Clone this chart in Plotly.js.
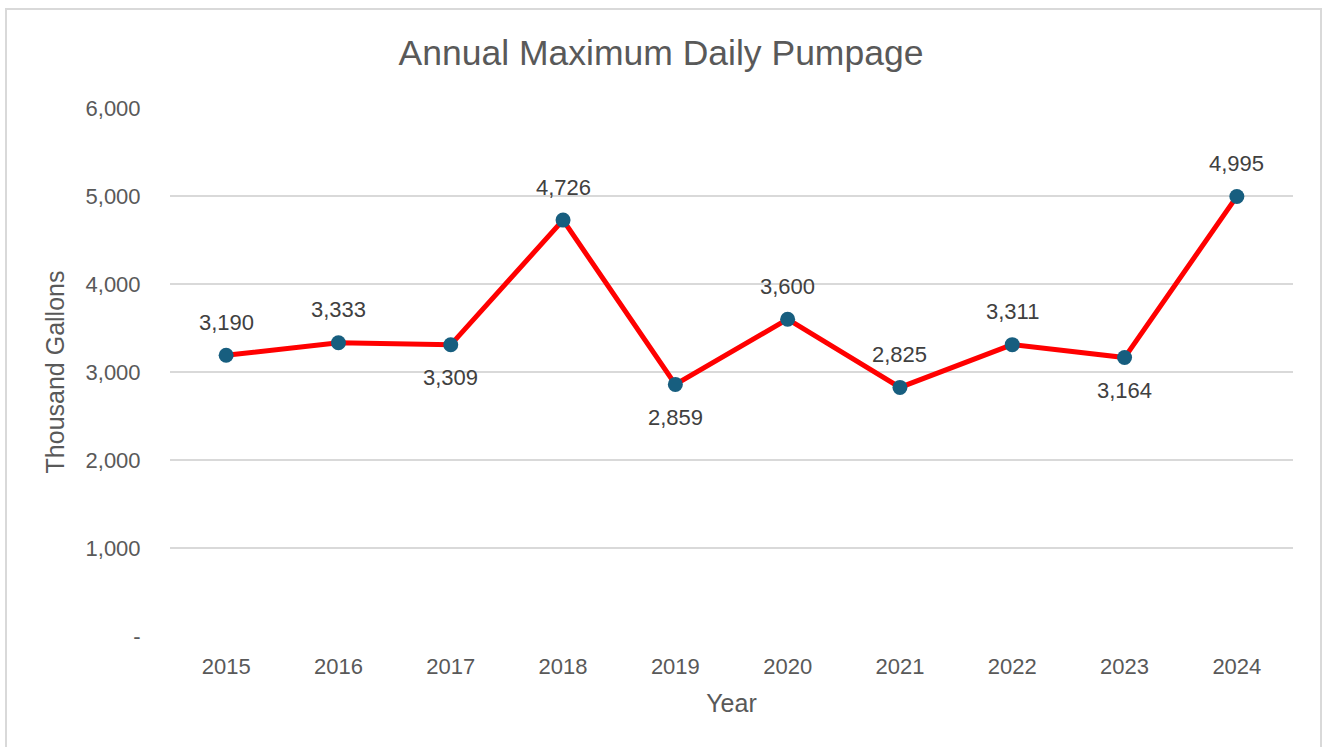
<!DOCTYPE html>
<html>
<head>
<meta charset="utf-8">
<script src="https://cdn.plot.ly/plotly-3.0.1.min.js"></script>
<style>
  body { margin: 0; background: #fff; }
  #chart { width: 1322px; height: 747px; }
  #frame {
    position: absolute; left: 5px; top: 8px; width: 1313px; height: 760px;
    border: 2px solid #d9d9d9; pointer-events: none;
  }
</style>
</head>
<body>
<div id="chart"></div>
<div id="frame"></div>
<script>
var years = ['2015', '2016', '2017', '2018', '2019', '2020', '2021', '2022', '2023', '2024'];
var pumpage = [3190, 3333, 3309, 4726, 2859, 3600, 2825, 3311, 3164, 4995];
// label above (1) or below (-1) the point
var labelSide = [1, 1, -1, 1, -1, 1, 1, 1, -1, 1];
var yTicks = [0, 1000, 2000, 3000, 4000, 5000, 6000];
var yTickText = ['-', '1,000', '2,000', '3,000', '4,000', '5,000', '6,000'];

var fontFam = 'Liberation Sans, Arial, sans-serif';

var trace = {
    x: years,
    y: pumpage,
    type: 'scatter',
    mode: 'lines+markers',
    line: { color: '#ff0000', width: 5 },
    marker: { color: '#175e7f', size: 15 },
    cliponaxis: false,
    hoverinfo: 'x+y'
};

// data labels, placed on the category index of each year
var labels = years.map((yr, i) => ({
    xref: 'x',
    yref: 'y',
    x: i,
    y: pumpage[i],
    text: pumpage[i].toLocaleString('en-US'),
    showarrow: false,
    yshift: 33 * labelSide[i],
    font: { family: fontFam, size: 22, color: '#404040' }
}));

var layout = {
    width: 1322,
    height: 747,
    margin: { l: 170, r: 29, t: 108, b: 111 },
    paper_bgcolor: '#ffffff',
    plot_bgcolor: '#ffffff',
    showlegend: false,
    font: { family: fontFam, color: '#595959' },
    title: {
        text: 'Annual Maximum Daily Pumpage',
        font: { family: fontFam, size: 35.5, color: '#595959' },
        x: 0.5, xanchor: 'center',
        y: 0.93, yanchor: 'middle'
    },
    annotations: labels,
    xaxis: {
        type: 'category',
        range: [-0.5, 9.5],
        title: { text: 'Year', font: { size: 25, color: '#595959' }, standoff: 16 },
        tickfont: { size: 22, color: '#595959' },
        showgrid: false,
        zeroline: false,
        showline: false,
        ticks: 'outside',
        ticklen: 11,
        tickcolor: 'rgba(0,0,0,0)',
        automargin: false
    },
    yaxis: {
        range: [0, 6000],
        tickvals: yTicks,
        ticktext: yTickText,
        title: { text: 'Thousand Gallons', font: { size: 25, color: '#595959' }, standoff: 13 },
        tickfont: { size: 22, color: '#595959' },
        gridcolor: '#d9d9d9',
        gridwidth: 2,
        zeroline: false,
        showline: false,
        ticks: 'outside',
        ticklen: 24,
        tickcolor: 'rgba(0,0,0,0)',
        automargin: false
    }
};

Plotly.newPlot('chart', [trace], layout, { displayModeBar: false, staticPlot: true });
</script>
</body>
</html>
